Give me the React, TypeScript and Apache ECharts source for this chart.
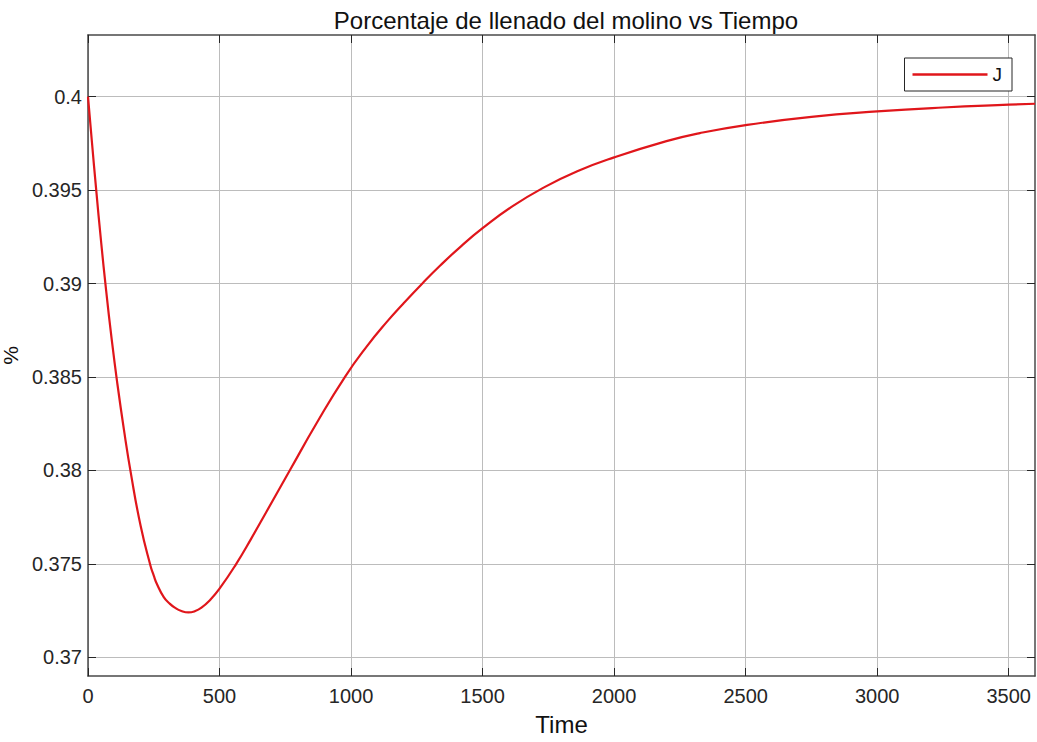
import React, { useEffect, useRef } from "react";
import * as echarts from "echarts";

const timeValues = [0, 15, 31, 50, 69, 90, 110, 137, 164, 200, 237, 250, 262, 288, 310, 330, 355, 382, 405, 430, 465, 500, 563, 620, 680, 769, 870, 977, 1060, 1136, 1200, 1272, 1338, 1420, 1500, 1610, 1730, 1860, 2000, 2199, 2326, 2500, 2750, 3000, 3250, 3500, 3600];
const jValues = [0.4, 0.39756, 0.39504, 0.39221, 0.38962, 0.38703, 0.38481, 0.38214, 0.37976, 0.37704, 0.37493, 0.37437, 0.37392, 0.37322, 0.37288, 0.37266, 0.37248, 0.3724, 0.37246, 0.37264, 0.37308, 0.37367, 0.37499, 0.37634, 0.37783, 0.38005, 0.38255, 0.38501, 0.38664, 0.38795, 0.38895, 0.39002, 0.39095, 0.39202, 0.39296, 0.3941, 0.39512, 0.39601, 0.39675, 0.39762, 0.39805, 0.39848, 0.39892, 0.39921, 0.39942, 0.39957, 0.39962];
const xTicks = [0, 500, 1000, 1500, 2000, 2500, 3000, 3500];
const yTicks = [0.37, 0.375, 0.38, 0.385, 0.39, 0.395, 0.4];
const titleText = "Porcentaje de llenado del molino vs Tiempo";
const xName = "Time";
const yName = "%";
const seriesName = "J";

export default function App() {
  const ref = useRef<HTMLDivElement>(null);
  useEffect(() => {
    if (!ref.current) return;
    const chart = echarts.init(ref.current, null, { renderer: "svg" });
    const font = "Liberation Sans, Arial, sans-serif";
    const axisColor = "#262626";
    const gridColor = "#bcbcbc";
    const data = timeValues.map((t, i) => [t, jValues[i]]);
    const xBase = {
      type: "value" as const,
      min: 0,
      max: 3600,
      axisLine: { show: true, onZero: false, lineStyle: { color: "#4a4a4a", width: 1.5 } },
      axisTick: { show: true, inside: true, length: 8, customValues: xTicks, lineStyle: { color: axisColor } },
    };
    const yBase = {
      type: "value" as const,
      min: 0.369,
      max: 0.4033,
      axisLine: { show: true, onZero: false, lineStyle: { color: "#4a4a4a", width: 1.5 } },
      axisTick: { show: true, inside: true, length: 8, customValues: yTicks, lineStyle: { color: axisColor } },
    };
    chart.setOption({
      animation: false,
      backgroundColor: "#ffffff",
      title: {
        text: titleText,
        left: 561,
        textAlign: "center",
        top: 3,
        textStyle: { fontFamily: font, fontSize: 24, fontWeight: "normal", color: "#111" },
      },
      grid: { left: 88, right: 2, top: 35, bottom: 66, containLabel: false, outerBoundsMode: "none" },
      legend: {
        data: [seriesName],
        right: 25,
        top: 58,
        icon: "rect",
        itemWidth: 75,
        itemHeight: 2.5,
        padding: [7, 10, 7, 8],
        borderColor: axisColor,
        borderWidth: 1,
        backgroundColor: "#fff",
        textStyle: { fontFamily: font, fontSize: 19, color: "#111" },
      },
      xAxis: [
        {
          ...xBase,
          position: "bottom",
          name: xName,
          nameLocation: "middle",
          nameGap: 36,
          nameTextStyle: { fontFamily: font, fontSize: 24, color: "#111" },
          axisLabel: { customValues: xTicks, formatter: (v: number) => String(v), fontFamily: font, fontSize: 20, color: axisColor, margin: 10 },
          splitLine: { show: true, lineStyle: { color: gridColor, width: 1 } },
        },
        {
          ...xBase,
          position: "top",
          axisLabel: { show: false },
          splitLine: { show: false },
        },
      ],
      yAxis: [
        {
          ...yBase,
          position: "left",
          name: yName,
          nameLocation: "middle",
          nameGap: 60,
          nameRotate: 90,
          nameTextStyle: { fontFamily: font, fontSize: 21, color: "#111" },
          axisLabel: { customValues: yTicks, formatter: (v: number) => String(v), fontFamily: font, fontSize: 20, color: axisColor, margin: 6 },
          splitLine: { show: true, lineStyle: { color: gridColor, width: 1 } },
        },
        {
          ...yBase,
          position: "right",
          axisLabel: { show: false },
          splitLine: { show: false },
        },
      ],
      series: [
        {
          name: seriesName,
          type: "line",
          data,
          xAxisIndex: 0,
          yAxisIndex: 0,
          showSymbol: false,
          symbol: "none",
          smooth: true,
          lineStyle: { color: "#e0161b", width: 2.2 },
          itemStyle: { color: "#e0161b" },
        },
      ],
    });
    return () => chart.dispose();
  }, []);
  return <div ref={ref} style={{ position: "fixed", left: 0, top: 0, width: 1037, height: 742 }} />;
}
